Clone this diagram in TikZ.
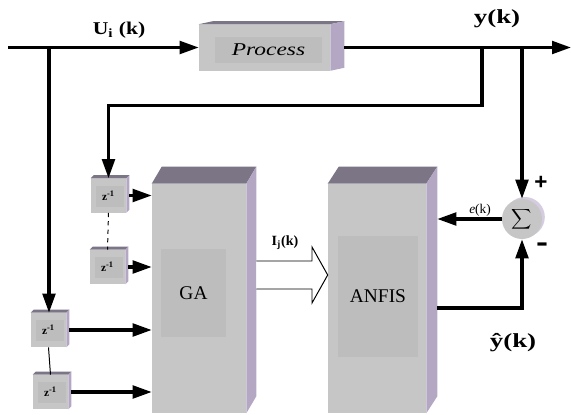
\documentclass[tikz,border=0pt]{standalone}
\usepackage{fontspec}
\usepackage{graphicx}
\setmainfont{Liberation Serif}
\newfontfamily\signfont{Liberation Sans}
\usetikzlibrary{arrows.meta,shadows}

\definecolor{frontgray}{HTML}{C6C6C6}
\definecolor{innergray}{HTML}{BDBDBD}
\definecolor{topface}{HTML}{7B7585}
\definecolor{sideface}{HTML}{B4A7C4}
\definecolor{shadowlav}{HTML}{D5CCE0}

\newcommand{\hwide}[2][1.35]{\scalebox{#1}[1]{#2}}
% top and side faces of a block: node, depth to the right, depth upwards
\newcommand{\blockfaces}[3]{%
  \fill[topface] (#1.north west) -- ++(#2,-#3) -- ([shift={(#2,-#3)}]#1.north east) -- (#1.north east) -- cycle;
  \fill[sideface] (#1.north east) -- ++(#2,-#3) -- ([shift={(#2,-#3)}]#1.south east) -- (#1.south east) -- cycle;}

\begin{document}
\begin{tikzpicture}[x=0.025cm, y=-0.025cm,
  sig/.style={line width=2.2pt, -{Triangle[length=13.5pt, width=9pt]}},
  link/.style={line width=0.7pt},
  front/.style={fill=frontgray, inner sep=0pt},
  inner/.style={fill=innergray, inner sep=0pt},
  zbox/.style={front, minimum width=0.875cm, minimum height=0.85cm, font=\fontsize{8}{9}\bfseries,
    path picture={\fill[innergray] ([shift={(0.12cm,0.14cm)}]path picture bounding box.south west) rectangle ([shift={(-0.06cm,-0.18cm)}]path picture bounding box.north east);}}]
  \useasboundingbox (0,0) rectangle (571,414);

  % blocks
  \node[front, minimum width=3.275cm, minimum height=1.15cm] (process) at (264.5,47.5) {};
  \node[inner, minimum width=2.675cm, minimum height=0.625cm, font=\fontsize{12.8}{14}\itshape] (processLbl) at (268.5,50) {\hwide[1.3]{Process}};
  \blockfaces{process}{14}{3}

  \node[front, minimum width=2.35cm, minimum height=5.725cm] (ga) at (199,298.5) {};
  \node[inner, minimum width=1.625cm, minimum height=2.2cm, font=\fontsize{13.8}{15}\selectfont] (gaLbl) at (193.5,293) {GA};
  \blockfaces{ga}{10}{17}

  \node[front, minimum width=2.45cm, minimum height=5.725cm] (anfis) at (377,298.5) {};
  \node[inner, minimum width=2cm, minimum height=3.025cm, font=\fontsize{13.8}{15}\selectfont] (anfisLbl) at (378,296.5) {ANFIS};
  \blockfaces{anfis}{11}{17}

  \coordinate (gaSide) at ([xshift=0.25cm]ga.east);
  \coordinate (anfisSide) at ([xshift=0.275cm]anfis.east);

  % delay boxes
  \node[zbox] (zB) at (108.5,195.5) {z\textsuperscript{-1}};
  \node[zbox] (zC) at (107.5,267) {z\textsuperscript{-1}};
  \node[zbox] (zA) at (48.5,330) {z\textsuperscript{-1}};
  \node[zbox] (zD) at (50.5,392) {z\textsuperscript{-1}};
  \blockfaces{zB}{3}{3}
  \blockfaces{zC}{3}{3}
  \blockfaces{zA}{3}{3}
  \blockfaces{zD}{3}{3}

  % summing point
  \node[circle, fill=frontgray, minimum size=1cm, inner sep=0pt,
    drop shadow={shadow xshift=0.07cm, shadow yshift=0.05cm, fill=shadowlav, opacity=1}] (sigma) at (522,219)
    {\fontsize{13}{15}\selectfont$\displaystyle\sum$};

  % signal lines
  \coordinate (in) at (8,47.5);
  \coordinate (out) at (571,47.5);
  \coordinate (uTap) at (49,47.5);
  \coordinate (yTap) at (482,47.5);
  \coordinate (eTap) at (522,47.5);

  \draw[sig] (in) -- (process.west);
  \draw[sig] ([xshift=0.35cm]process.east) -- (out);
  \draw[sig] (uTap) -- (uTap |- zA.north);
  \draw[sig] (yTap) -- ++(0,58) -| (zB.north);
  \draw[sig] (eTap) -- (sigma.north);

  \draw[sig] ([xshift=0.075cm]zB.east) -- (zB.east -| ga.west);
  \draw[sig] ([xshift=0.075cm]zC.east) -- (zC.east -| ga.west);
  \draw[sig] ([xshift=0.075cm]zA.east) -- (zA.east -| ga.west);
  \draw[sig] ([xshift=0.075cm]zD.east) -- (zD.east -| ga.west);
  \draw[link, dashed] (zB.south) -- (zC.north);
  \draw[link] (zA.south) -- (zD.north);

  % hollow arrow GA -> ANFIS
  \draw[link, fill=white] (gaSide |- 0,261) -- (312,261) -- (312,247) -- (anfis.west |- 0,275)
    -- (312,303) -- (312,289) -- (gaSide |- 0,289);

  \draw[sig] (sigma.west) -- (sigma.west -| anfisSide);
  \draw[sig] (anfisSide |- 0,308) -| (sigma.south);

  % labels
  \node[font=\fontsize{12.8}{14}\bfseries] (uLbl) at (119,30) {\hwide[1.2]{U\textsubscript{i} (k)}};
  \node[font=\fontsize{14.2}{16}\bfseries] (yLbl) at (497,19) {\hwide{y(k)}};
  \node[font=\fontsize{14.2}{16}\bfseries] (yhatLbl) at (513,343) {\hwide{ŷ(k)}};
  \node[font=\fontsize{9.5}{11}\selectfont] (eLbl) at (480,210) {\textit{e}(k)};
  \node[font=\fontsize{10}{12}\bfseries] (ijLbl) at (285,243) {I\textsubscript{j}(k)};
  \node[font=\signfont\fontsize{16}{16}\bfseries] (plusLbl) at (541,183) {+};
  \node[font=\signfont\fontsize{16}{16}\bfseries] (minusLbl) at (542,247) {\scalebox{1.6}[1.2]{-}};
\end{tikzpicture}
\end{document}
